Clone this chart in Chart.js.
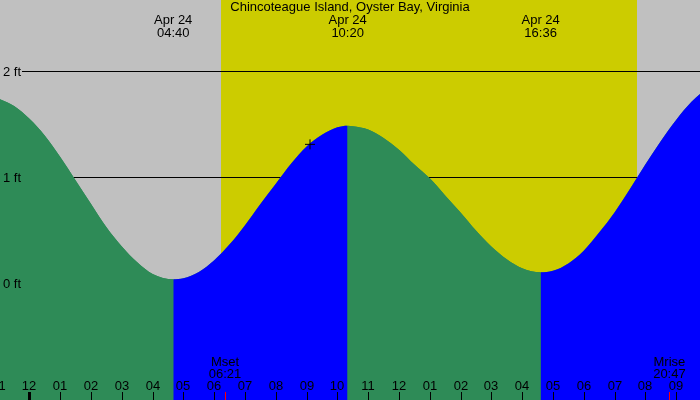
<!DOCTYPE html>
<html>
<head>
<meta charset="utf-8">
<script src="https://cdn.jsdelivr.net/npm/chart.js@4"></script>
<style>
  html, body { margin: 0; padding: 0; background: #c0c0c0; }
  canvas { display: block; }
</style>
</head>
<body>
<canvas id="tideChart" width="700" height="400"></canvas>
<script>
// hours from midnight Apr 24 (negative = Apr 23 evening)
const hours = [-1, -0.5, 0, 0.5, 1, 1.5, 2, 2.5, 3, 3.5, 4, 4.67,
               5, 5.5, 6, 6.5, 7, 7.5, 8, 8.5, 9, 9.5, 10, 10.33,
               10.5, 11, 11.5, 12, 12.5, 13, 13.5, 14, 14.5, 15, 15.5, 16, 16.6,
               17, 17.5, 18, 18.5, 19, 19.5, 20, 20.5, 21, 21.5, 22];
// tide height in feet
const heights = [1.74, 1.67, 1.55, 1.39, 1.19, 0.97, 0.75, 0.53, 0.35, 0.20, 0.09, 0.04,
                 0.05, 0.11, 0.22, 0.37, 0.55, 0.75, 0.94, 1.13, 1.29, 1.40, 1.47, 1.485,
                 1.48, 1.45, 1.37, 1.26, 1.12, 0.99, 0.83, 0.67, 0.50, 0.35, 0.23, 0.145, 0.106,
                 0.12, 0.19, 0.31, 0.48, 0.67, 0.89, 1.12, 1.34, 1.54, 1.71, 1.84];

const tideTimes = [4.667, 10.333, 16.6];
const tideLabels = ["04:40", "10:20", "16:36"];
const tideDate = "Apr 24";

const sunTimes = [6.22, 19.73];
const moonTimes = [6.35, 20.783];
const moonNames = ["Mset", "Mrise"];
const moonLabels = ["06:21", "20:47"];

const nowPoint = [{ x: 9.11, y: 1.31 }];

const tickHours = [-1, 0, 1, 2, 3, 4, 5, 6, 7, 8, 9, 10, 11, 12, 13, 14, 15, 16, 17, 18, 19, 20, 21];
const tickLabels = ["11", "12", "01", "02", "03", "04", "05", "06", "07", "08", "09", "10", "11",
                    "12", "01", "02", "03", "04", "05", "06", "07", "08", "09"];
const ftLevels = [0, 1, 2];
const ftLabels = ["0 ft", "1 ft", "2 ft"];

const title = "Chincoteague Island, Oyster Bay, Virginia";

const GREEN = "#2e8b57";
const BLUE = "#0000ff";
const FONT = "13px 'Liberation Sans', Arial, sans-serif";

const tideDecor = {
  id: "tideDecor",
  beforeDraw(chart) {
    const { ctx, scales: { x, y } } = chart;
    ctx.save();
    ctx.fillStyle = "#c0c0c0";
    ctx.fillRect(0, 0, chart.width, chart.height);
    // daylight band
    const x0 = x.getPixelForValue(sunTimes[0]);
    const x1 = x.getPixelForValue(sunTimes[1]);
    ctx.fillStyle = "#cccc00";
    ctx.fillRect(x0, 0, x1 - x0, chart.height);
    // level lines (behind the water)
    ctx.strokeStyle = "#000";
    ctx.lineWidth = 1;
    ftLevels.forEach((v) => {
      if (v === 0) return;
      const py = Math.round(y.getPixelForValue(v)) + 0.5;
      ctx.beginPath();
      ctx.moveTo(22, py);
      ctx.lineTo(chart.width, py);
      ctx.stroke();
    });
    ctx.restore();
  },
  afterDatasetsDraw(chart) {
    const { ctx, scales: { x, y } } = chart;
    ctx.save();
    ctx.fillStyle = "#000";
    ctx.font = FONT;
    ctx.textBaseline = "alphabetic";

    // title and high/low times
    ctx.textAlign = "center";
    ctx.fillText(title, chart.width / 2, 11);
    tideTimes.forEach((t, i) => {
      const px = x.getPixelForValue(t);
      ctx.fillText(tideDate, px, 24);
      ctx.fillText(tideLabels[i], px, 37);
    });

    // feet labels
    ctx.textAlign = "left";
    ctx.textBaseline = "middle";
    ftLevels.forEach((v, i) => {
      ctx.fillText(ftLabels[i], 3, y.getPixelForValue(v) + 1);
    });

    // hour ticks along the bottom
    ctx.textAlign = "center";
    ctx.textBaseline = "alphabetic";
    tickHours.forEach((h, i) => {
      const px = Math.round(x.getPixelForValue(h));
      ctx.fillText(tickLabels[i], px, 390);
      ctx.fillRect(h === 0 ? px - 1 : px, 392, h === 0 ? 3 : 1, 8);
    });

    // moon set / rise
    moonTimes.forEach((t, i) => {
      const px = x.getPixelForValue(t);
      ctx.fillStyle = "#000";
      ctx.fillText(moonNames[i], px, 366);
      ctx.fillText(moonLabels[i], px, 378);
      ctx.fillStyle = "#ff0000";
      ctx.fillRect(Math.round(px), 392, 1, 8);
    });
    ctx.restore();
  }
};

const tidePoints = hours.map((h, i) => ({ x: h, y: heights[i] }));

const ctx = document.getElementById("tideChart").getContext("2d");
new Chart(ctx, {
  type: "line",
  data: {
    datasets: [
      {
        type: "scatter",
        data: nowPoint,
        pointStyle: "cross",
        pointRadius: 5,
        borderColor: "#000",
        borderWidth: 1
      },
      {
        // rising water blue, falling water green
        data: tidePoints,
        fill: "start",
        backgroundColor: GREEN,
        borderWidth: 0,
        pointRadius: 0,
        cubicInterpolationMode: "monotone",
        segment: {
          backgroundColor: (c) => (c.p1.parsed.y > c.p0.parsed.y ? BLUE : GREEN)
        }
      },
      {
        // underlay so segment seams don't show the background
        data: tidePoints,
        fill: "start",
        backgroundColor: GREEN,
        borderWidth: 0,
        pointRadius: 0,
        cubicInterpolationMode: "monotone"
      }
    ]
  },
  options: {
    responsive: false,
    animation: false,
    events: [],
    layout: { padding: 0, autoPadding: false },
    plugins: {
      legend: { display: false },
      tooltip: { enabled: false }
    },
    scales: {
      x: { type: "linear", display: false, min: -0.958, max: 21.776 },
      y: { display: false, min: -1.095, max: 2.668 }
    }
  },
  plugins: [tideDecor]
});
</script>
</body>
</html>
